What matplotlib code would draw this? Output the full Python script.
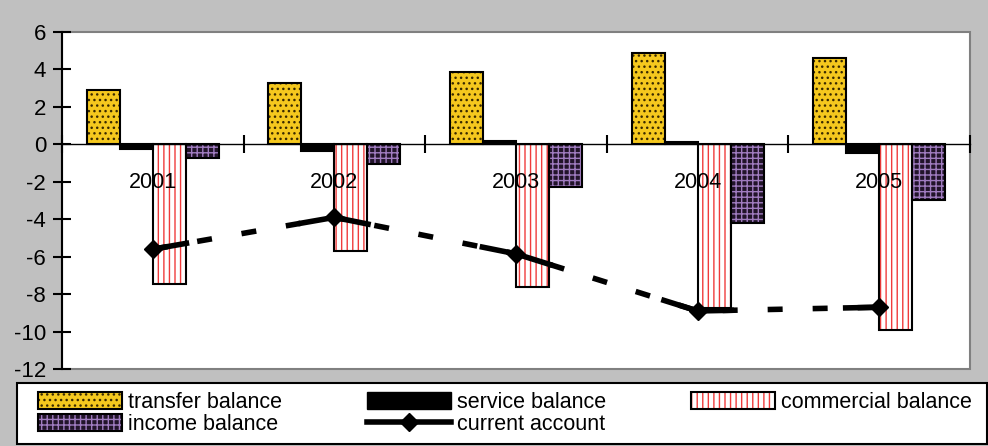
import numpy as np
import matplotlib.pyplot as plt
from matplotlib.lines import Line2D
from matplotlib.patches import Patch, Rectangle

plt.rcParams['font.family'] = ['Liberation Sans', 'DejaVu Sans']
plt.rcParams['hatch.linewidth'] = 1.0
plt.rcParams['axes.unicode_minus'] = False

years = ['2001', '2002', '2003', '2004', '2005']
transfer = [2.9, 3.3, 3.85, 4.9, 4.6]
service = [-0.25, -0.35, 0.2, 0.1, -0.45]
commercial = [-7.45, -5.7, -7.6, -8.75, -9.9]
income = [-0.75, -1.05, -2.3, -4.2, -2.95]
current = [-5.6, -3.9, -5.85, -8.9, -8.7]

YELLOW = '#f5c81e'
DARK = '#22142a'
PURPLE = '#a07cc0'
RED = '#f03c3c'

fig = plt.figure(figsize=(9.88, 4.46), dpi=100, facecolor='#c0c0c0')
ax = fig.add_axes([0.0628, 0.1726, 0.919, 0.7557])
ax.set_facecolor('white')

x = np.arange(len(years))
w = 1 / 5.5
edge_lw = 1.5


def hatched_bar(xpos, vals, face, hcol, hatch):
    ax.bar(xpos, vals, w, color=face, edgecolor=hcol, hatch=hatch, linewidth=0, zorder=2)
    ax.bar(xpos, vals, w, fill=False, edgecolor='black', linewidth=edge_lw, zorder=3)
    return (Patch(facecolor=face, edgecolor=hcol, hatch=hatch, linewidth=0),
            Patch(fill=False, edgecolor='black', linewidth=edge_lw))


h_transfer = hatched_bar(x - 1.5 * w, transfer, YELLOW, '#3a2a00', '...')
ax.bar(x - 0.5 * w, service, w, color='black', edgecolor='black', linewidth=edge_lw, zorder=3)
h_service = Patch(facecolor='black', edgecolor='black')
h_commercial = hatched_bar(x + 0.5 * w, commercial, 'white', RED, '|||')
h_income = hatched_bar(x + 1.5 * w, income, DARK, PURPLE, '+++')

# current account: long-dash line, solid near each point
lw = 4.0
ax.plot(x, current, color='black', lw=lw, dashes=(2.7, 5.4), zorder=4)
for i in range(len(x) - 1):
    for a, b in ((i, i + 1), (i + 1, i)):
        f = 0.2
        ax.plot([x[a], x[a] + f * (x[b] - x[a])],
                [current[a], current[a] + f * (current[b] - current[a])],
                color='black', lw=lw, solid_capstyle='butt', zorder=4)
ax.plot(x, current, ls='none', marker='D', ms=9.5, color='black', zorder=5)
h_current = Line2D([], [], color='black', lw=lw, marker='D', ms=9.5)

ax.set_xlim(-0.5, len(years) - 0.5)
ax.set_ylim(-12, 6)
ax.set_yticks(range(-12, 7, 2))

for side in ('top', 'right'):
    ax.spines[side].set_visible(False)
ax.spines['left'].set_linewidth(1.5)
ax.spines['bottom'].set_position(('data', 0))
ax.spines['bottom'].set_linewidth(1.0)
ax.add_patch(Rectangle((0, 0), 1, 1, transform=ax.transAxes, fill=False,
                       edgecolor='#808080', lw=1.5, clip_on=False, zorder=1))

ax.set_xticks(np.arange(-0.5, len(years), 1))
ax.set_xticklabels([])
ax.set_xticks(x, minor=True)
ax.set_xticklabels(years, minor=True)
ax.tick_params(axis='x', which='major', direction='inout', length=13, width=1.5)
ax.tick_params(axis='x', which='minor', length=0, pad=20, labelsize=15.5)
ax.tick_params(axis='y', direction='inout', length=13, width=1.5, labelsize=16, pad=5)
ax.xaxis.set_zorder(6)

# legend box spanning the bottom strip
fig.patches.append(Rectangle((17 / 988, 2 / 446), 970 / 988, 61 / 446,
                             transform=fig.transFigure, facecolor='white',
                             edgecolor='black', lw=1.5, zorder=0))

handles = [h_transfer, h_income, h_service, h_current, h_commercial]
labels = ['transfer balance', 'income balance', 'service balance',
          'current account', 'commercial balance']
leg = fig.legend(handles, labels, ncol=3, loc='center left',
                 bbox_to_anchor=(38 / 988, 2 / 446, 934 / 988, 61 / 446), mode='expand',
                 borderaxespad=0, fontsize=15.5, frameon=False,
                 handlelength=3.9, handleheight=0.85,
                 handletextpad=0.3, labelspacing=0.05, borderpad=0)

fig.savefig('out.png', dpi=100, facecolor=fig.get_facecolor())
